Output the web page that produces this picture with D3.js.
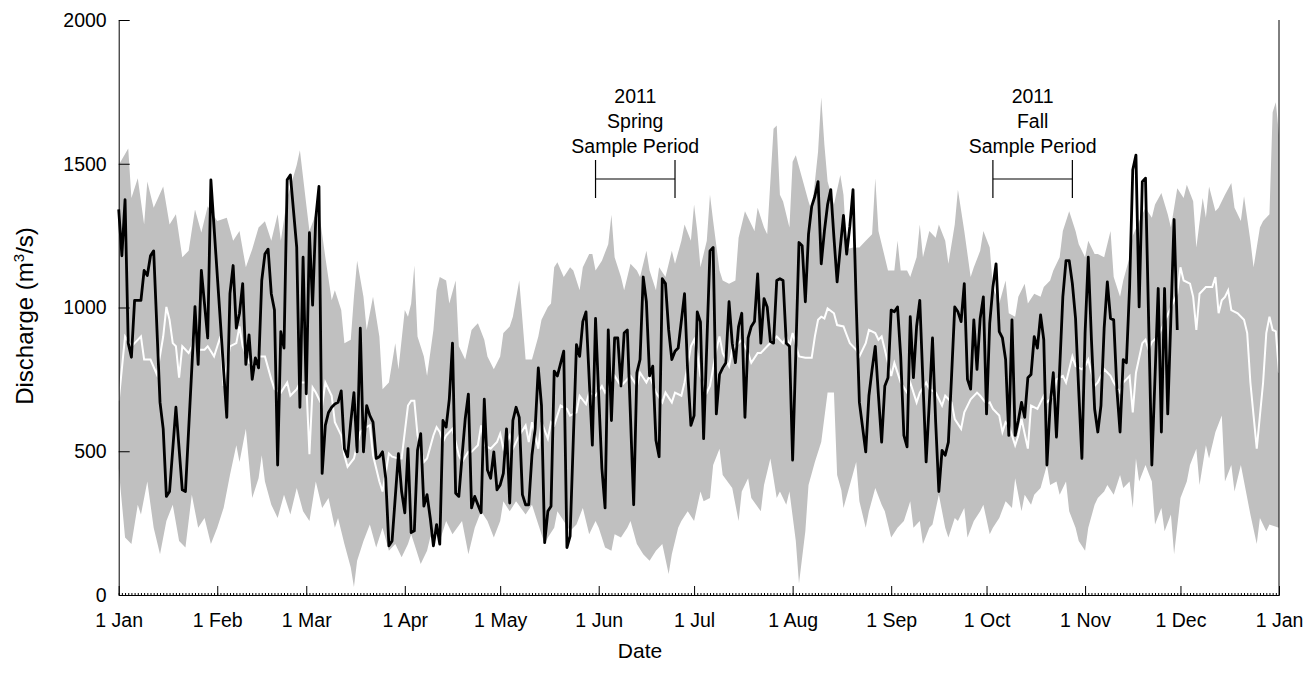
<!DOCTYPE html>
<html>
<head>
    <meta charset="UTF-8">
    <title>Daily discharge 2011</title>
    <script src="https://cdn.jsdelivr.net/npm/d3@7"></script>
    <style>
        body, html { margin: 0; padding: 0; background: #fff; }
        svg text { font-family: "Liberation Sans", Arial, sans-serif; fill: #000; }
    </style>
</head>
<body>
<svg id="chart" width="1309" height="681"></svg>
<script>
// month ticks (day of year, 2011)
var monthDays = [0, 31, 59, 90, 120, 151, 181, 212, 243, 273, 304, 334, 365];
var monthLabels = ["1 Jan", "1 Feb", "1 Mar", "1 Apr", "1 May", "1 Jun", "1 Jul", "1 Aug", "1 Sep", "1 Oct", "1 Nov", "1 Dec", "1 Jan"];
var yTicks = [0, 500, 1000, 1500, 2000];

// historical envelope, upper edge (day, m3/s)
var upperDays = [0,3,4,6,8,9,11,14,16,18,20,22,24,26,28,29,31,34,36,38,40,42,44,46,48,50,51,53,56,57,59,60,62,63,65,67,68,70,71,73,74,75,77,78,80,82,83,85,87,88,90,91,
    92,93,94,96,97,99,100,101,103,104,106,107,109,111,112,113,115,116,118,120,121,123,124,126,127,128,130,132,133,135,136,137,
    138,140,142,143,145,146,148,149,150,152,154,155,156,158,159,161,163,164,166,167,169,170,172,174,175,177,178,180,181,182,
    183,185,186,187,189,190,192,194,195,197,198,200,201,203,204,206,207,208,209,211,212,213,215,217,218,220,221,222,223,225,227,228,
    229,231,233,235,237,238,239,241,242,244,245,246,248,249,251,252,253,255,257,258,260,261,263,264,266,268,269,271,272,274,
    275,277,279,280,282,283,285,286,288,290,291,293,294,296,297,299,301,302,304,305,307,308,310,312,313,315,316,318,319,321,
    323,325,326,328,330,331,333,335,336,338,339,341,342,343,345,346,348,350,351,353,354,356,357,359,360,362,363,364,365];
var upperQ = [1496,1553,1381,1450,1289,1438,1347,1421,1289,1324,1175,1197,1341,1261,1352,1335,1301,1312,1232,1266,1140,1203,1278,1300,1232,1324,1232,1381,1496,1547,1358,1266,1324,1335,1175,1025,1060,991,876,888,1037,1163,1037,922,1037,899,716,739,876,785,991,968,
    1014,1146,899,830,762,922,1060,1106,1094,1014,1094,865,819,922,934,945,888,830,785,830,911,934,968,1094,957,819,819,899,957,1002,1014,1140,
    1157,1106,1140,1129,1060,1140,1186,1186,1129,1163,1220,1323,1175,1106,1060,1152,1129,1106,1197,1129,1060,1140,1106,1197,1152,1232,1289,1232,1358,1266,
    1140,1232,1392,1301,1129,1094,1083,1094,1243,1335,1312,1266,1347,1278,1255,1622,1633,1392,1369,1278,1507,1530,1450,1369,1335,1542,1731,1565,1438,1358,1461,1392,
    1203,1209,1209,1232,1255,1450,1266,1175,1129,1129,1232,1129,1129,1106,1175,1289,1175,1266,1243,1289,1232,1152,1289,1410,1266,1106,1140,1197,1266,1209,
    1071,1014,1094,980,968,1037,1083,1014,1048,1037,1071,1094,1129,1175,1266,1335,1266,1220,1175,1232,1186,1186,1175,1266,1106,1037,1094,1175,1250,1300,
    1347,1312,1358,1398,1324,1278,1415,1381,1427,1370,1209,1381,1312,1421,1335,1347,1392,1433,1347,1301,1387,1232,1140,1278,1301,1324,1679,1714,1600];

// historical envelope, lower edge
var lowerDays = [0,2,4,6,7,9,11,13,15,17,19,21,23,25,27,29,31,33,35,37,38,40,42,44,45,
    46,48,50,52,54,56,58,60,62,64,66,68,69,71,73,74,75,77,79,81,83,85,87,89,91,
    92,93,95,97,98,100,101,103,105,108,110,112,114,116,118,120,121,123,125,128,130,132,134,135,137,
    138,140,142,144,146,148,150,151,153,155,156,158,160,161,163,165,167,169,171,173,174,176,177,179,181,
    183,184,186,187,189,190,193,195,196,198,199,202,203,205,207,208,210,211,213,214,216,217,219,221,223,225,226,228,
    227,228,230,232,233,235,236,238,240,241,243,245,247,249,250,252,253,255,256,258,260,261,263,264,266,267,269,271,272,274,
    275,277,279,281,282,284,285,287,288,290,292,293,295,296,298,299,301,302,304,305,307,308,310,311,313,315,316,318,319,
    320,321,323,325,326,328,329,331,332,334,336,337,339,340,342,343,345,347,348,350,351,353,354,356,358,359,361,362,365];
var lowerQ = [440,200,177,314,280,395,234,142,257,314,188,165,349,234,268,177,234,303,417,521,463,578,337,406,486,
    395,314,268,349,280,372,291,257,395,303,337,234,268,177,96,28,119,188,245,165,234,154,177,131,177,
    211,177,108,154,200,234,188,257,211,257,142,234,291,257,200,257,326,291,326,280,314,245,177,200,234,
    291,257,223,245,303,211,257,234,165,154,211,200,234,257,177,142,119,154,177,73,142,234,257,291,257,
    360,326,337,452,509,417,372,257,360,406,337,291,383,475,337,360,314,360,188,40,222,383,463,532,704,704,417,337,
    395,303,383,463,326,234,291,372,314,291,200,234,257,326,234,257,177,234,245,349,234,200,268,257,303,200,257,291,314,211,
    234,268,326,303,406,291,349,314,349,372,452,383,395,349,395,291,234,188,154,234,314,337,360,383,349,417,372,395,303,
    475,395,452,395,245,303,222,280,142,337,395,452,509,383,521,475,567,624,395,452,360,452,395,280,177,268,222,245,234];

// long-term daily mean (white line)
var meanDays = [0,2,4,5,7,8,10,12,14,15,16,17,18,19,20,22,23,24,25,27,28,29,30,32,33,35,37,38,39,41,43,44,46,48,49,51,53,54,56,57,59,60,61,62,64,65,67,68,70,71,72,74,76,77,79,80,82,83,85,86,88,89,91,
    92,93,94,96,97,99,100,101,102,103,105,107,108,110,111,113,114,115,117,119,120,121,123,124,126,128,129,130,132,133,135,136,137,
    139,141,142,144,145,147,148,150,152,153,155,156,158,159,161,163,164,166,167,169,171,172,174,175,177,178,180,181,182,
    183,185,186,188,189,190,192,193,195,196,198,199,201,202,204,206,207,209,210,211,212,214,216,218,219,220,221,222,223,225,226,228,
    229,230,232,233,235,236,238,239,240,242,243,244,246,248,249,251,252,254,255,257,259,260,262,263,265,266,268,270,271,273,
    274,275,277,278,279,280,282,283,284,286,287,289,291,292,294,295,297,298,300,301,303,304,305,307,308,310,312,313,315,316,318,319,
    320,322,323,324,325,327,329,331,333,334,335,337,338,339,340,342,344,345,346,347,348,349,350,352,354,355,356,357,358,360,361,362,363,364,365];
var meanQ = [676,899,865,876,899,819,819,767,899,1002,957,876,865,756,865,842,865,922,853,853,865,848,830,899,727,865,876,934,865,808,796,830,830,750,716,704,739,693,716,739,739,490,722,704,659,739,693,601,555,486,446,475,567,578,590,486,395,360,492,481,475,475,659,
    676,676,555,463,475,555,584,567,532,555,578,486,463,498,498,521,590,521,509,532,561,509,555,509,555,590,532,601,509,601,544,601,590,
    659,647,624,635,693,664,704,693,727,704,739,762,727,739,762,727,773,739,762,704,670,704,670,704,693,739,865,888,840,
    762,704,727,853,899,842,796,853,876,888,842,808,842,842,865,888,899,876,899,865,911,830,825,825,899,957,968,962,997,980,939,934,
    905,876,853,830,876,922,911,888,899,807,762,807,739,704,739,670,704,739,716,704,659,693,670,612,578,635,681,704,693,665,
    670,647,624,567,601,590,521,555,612,509,659,647,693,670,693,750,762,739,830,796,785,796,819,727,739,785,762,739,704,739,762,635,
    773,876,888,853,880,900,950,1000,1050,1140,1094,1083,1037,922,1048,1071,1071,1106,980,1025,1037,1060,991,980,957,911,739,624,509,739,911,968,922,917,773];

// 2011 observed daily discharge (black line)
var obsDays = [0,1,2,3,4,5,6,7,8,9,10,11,13,14,15,16,18,20,21,24,25,26,28,29,34,35,36,37,38,39,40,41,42,43,44,45,46,47,48,49,50,51,52,53,54,56,57,58,59,60,61,62,63,64,65,66,67,68,69,70,
    71,72,73,74,75,76,77,78,79,80,81,82,83,84,85,86,88,89,90,91,92,93,94,95,96,97,98,99,100,101,102,103,104,105,106,107,108,109,110,
    111,112,113,114,115,116,117,118,119,120,121,122,123,124,125,126,127,128,129,130,131,132,133,134,135,136,137,138,140,141,142,144,145,146,147,149,150,
    151,152,153,154,155,156,157,158,159,160,162,163,164,165,166,167,168,169,170,171,172,173,174,175,176,178,179,180,181,182,183,184,186,187,188,189,190,
    191,192,193,194,195,196,197,198,199,200,201,202,203,204,205,206,207,208,209,210,211,212,213,214,215,216,217,218,219,220,221,222,223,224,225,226,227,228,229,230,
    231,232,233,235,236,237,238,239,240,241,242,243,244,245,246,247,248,249,250,251,252,253,254,255,256,257,258,259,260,261,262,263,264,265,266,267,268,269,270,
    271,272,273,274,275,276,277,278,279,280,281,282,283,284,285,286,287,288,289,290,291,292,293,294,295,296,297,298,299,300,301,302,303,304,305,306,307,308,309,310,
    311,312,313,314,315,316,317,318,319,320,321,322,323,325,327,328,329,330,332,333];
var obsQ = [1341,1180,1375,876,827,1025,1025,1025,1129,1111,1180,1197,670,578,343,360,653,366,360,1003,802,1129,894,1444,618,1048,1146,928,980,1083,802,905,750,825,790,1094,1186,1203,1048,991,452,916,859,1444,1461,1209,653,1175,700,1260,1008,1312,1421,423,590,635,653,664,670,710,
    509,481,601,704,498,928,498,659,624,601,475,481,498,406,171,188,492,360,286,509,217,223,503,561,309,349,268,171,245,177,607,584,681,876,354,343,481,612,699,
    303,343,314,286,681,435,406,498,366,383,423,578,320,607,653,618,349,314,314,486,578,790,659,182,291,309,779,762,848,165,205,871,830,951,985,521,962,
    693,440,303,922,607,894,894,727,911,922,314,773,819,1106,1020,762,796,538,481,1100,1083,922,819,848,859,1048,773,590,624,985,950,544,1197,1209,630,767,790,
    808,1020,876,808,934,980,618,894,934,951,1117,876,1031,1002,882,876,1094,1100,1094,876,865,469,842,1226,1215,1020,1255,1352,1387,1438,1152,1266,1358,1410,1243,1089,1209,1320,1186,1283,
    1410,1014,670,498,693,785,865,693,532,727,756,991,985,1002,830,555,515,968,756,934,1025,739,463,670,894,601,360,503,486,532,762,1002,985,951,1083,750,716,957,785,
    962,1037,630,945,1071,1152,916,894,819,555,957,555,607,670,618,756,767,899,859,974,888,452,659,773,549,785,1037,1163,1163,1083,962,710,475,911,1175,888,647,567,659,928,
    1089,962,957,716,567,819,808,1071,1479,1530,1002,1438,1450,452,1066,567,1066,630,1306,922];

// sample periods
var periodLabels = [["2011", "Spring", "Sample Period"], ["2011", "Fall", "Sample Period"]];
var periodStart = [150, 275];
var periodEnd = [175, 300];
var bracketQ = 1447;

var svg = d3.select("#chart");
var plotLeft = 118.7, plotRight = 1279, plotTop = 20, plotBottom = 595;

var x = d3.scaleLinear().domain([0, 365]).range([plotLeft, plotRight]);
var y = d3.scaleLinear().domain([0, 2000]).range([plotBottom, plotTop]);

// grey envelope: upper edge forward, lower edge back
var band = upperDays.map(function (d, i) { return [d, upperQ[i]]; })
    .concat(lowerDays.map(function (d, i) { return [d, lowerQ[i]]; }).reverse());
var lineGen = d3.line().x(function (p) { return x(p[0]); }).y(function (p) { return y(p[1]); });

svg.append("path")
    .attr("d", lineGen(band) + "Z")
    .attr("fill", "#c0c0c0")
    .attr("stroke", "none");

svg.append("path")
    .datum(meanDays.map(function (d, i) { return [d, meanQ[i]]; }))
    .attr("d", lineGen)
    .attr("fill", "none")
    .attr("stroke", "#ffffff")
    .attr("stroke-width", 2);

svg.append("path")
    .datum(obsDays.map(function (d, i) { return [d, obsQ[i]]; }))
    .attr("d", lineGen)
    .attr("fill", "none")
    .attr("stroke", "#000000")
    .attr("stroke-width", 2.8)
    .attr("stroke-linejoin", "round");

// axes
var yAxis = d3.axisLeft(y).tickValues(yTicks).tickSizeInner(-11).tickSizeOuter(0).tickPadding(12)
    .tickFormat(d3.format("d"));
svg.append("g").attr("transform", "translate(" + plotLeft + ",0)").call(yAxis);

var xMinor = d3.axisBottom(x).tickValues(d3.range(0, 366)).tickSizeInner(-2).tickSizeOuter(0).tickFormat("");
svg.append("g").attr("transform", "translate(0," + plotBottom + ")").call(xMinor);

var xAxis = d3.axisBottom(x).tickValues(monthDays).tickSizeInner(-9).tickSizeOuter(0).tickPadding(18)
    .tickFormat(function (d, i) { return monthLabels[i]; });
svg.append("g").attr("transform", "translate(0," + plotBottom + ")").call(xAxis);

svg.selectAll(".tick text").attr("font-size", "19.5px").attr("font-family", "'Liberation Sans', Arial, sans-serif");
svg.selectAll(".domain, .tick line").attr("stroke", "#000");

// right frame line
svg.append("line")
    .attr("x1", plotRight).attr("x2", plotRight)
    .attr("y1", y(2000)).attr("y2", y(0))
    .attr("stroke", "#000");

// axis titles
svg.append("text")
    .attr("x", 640).attr("y", 658)
    .attr("text-anchor", "middle")
    .attr("font-size", "21px")
    .text("Date");

var yt = svg.append("text")
    .attr("transform", "translate(33,316) rotate(-90)")
    .attr("text-anchor", "middle")
    .attr("font-size", "24px");
yt.append("tspan").text("Discharge (m");
yt.append("tspan").attr("font-size", "15px").attr("dy", "-9").text("3");
yt.append("tspan").attr("dy", "9").text("/s)");

// sample period brackets
periodLabels.forEach(function (lines, i) {
    var x0 = x(periodStart[i]), x1 = x(periodEnd[i]), yb = y(bracketQ);
    var g = svg.append("g").attr("stroke", "#000").attr("stroke-width", 1.2);
    g.append("line").attr("x1", x0).attr("x2", x1).attr("y1", yb).attr("y2", yb);
    g.append("line").attr("x1", x0).attr("x2", x0).attr("y1", yb - 19).attr("y2", yb + 19);
    g.append("line").attr("x1", x1).attr("x2", x1).attr("y1", yb - 19).attr("y2", yb + 19);
    lines.forEach(function (t, j) {
        svg.append("text")
            .attr("x", (x0 + x1) / 2)
            .attr("y", yb - 76 + j * 25)
            .attr("text-anchor", "middle")
            .attr("font-size", "19.5px")
            .text(t);
    });
});
</script>
</body>
</html>
